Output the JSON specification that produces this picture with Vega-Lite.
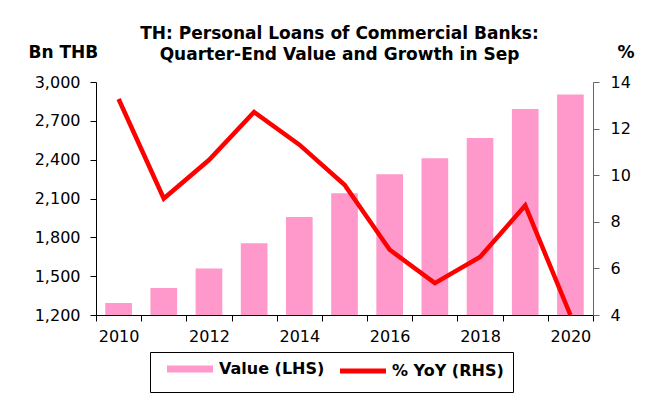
{
  "$schema": "https://vega.github.io/schema/vega-lite/v6.json",
  "width": 497,
  "height": 233,
  "autosize": "none",
  "padding": {"left": 96, "top": 82, "right": 53, "bottom": 89},
  "background": "white",
  "config": {
    "font": "DejaVu Sans",
    "view": {"stroke": null},
    "axis": {
      "grid": false,
      "labelFont": "DejaVu Sans",
      "labelFontSize": 16,
      "labelColor": "black",
      "titleFont": "DejaVu Sans",
      "titleFontWeight": "bold",
      "titleFontSize": 17,
      "titleColor": "black",
      "domainColor": "black",
      "tickColor": "black",
      "domainWidth": 1,
      "tickWidth": 1
    }
  },
  "title": {
    "text": ["TH: Personal Loans of Commercial Banks:", "Quarter-End Value and Growth in Sep"],
    "font": "DejaVu Sans",
    "fontSize": 17,
    "fontWeight": "bold",
    "color": "black",
    "anchor": "middle",
    "frame": "group",
    "dx": -5,
    "dy": 25,
    "lineHeight": 21.7,
    "offset": 4
  },
  "data": {
    "values": [
      {"year": "2010", "value": 1292, "yoy": 13.27},
      {"year": "2011", "value": 1408, "yoy": 9.0},
      {"year": "2012", "value": 1559, "yoy": 10.65},
      {"year": "2013", "value": 1755, "yoy": 12.71},
      {"year": "2014", "value": 1958, "yoy": 11.31},
      {"year": "2015", "value": 2141, "yoy": 9.59},
      {"year": "2016", "value": 2287, "yoy": 6.8},
      {"year": "2017", "value": 2411, "yoy": 5.37},
      {"year": "2018", "value": 2567, "yoy": 6.49},
      {"year": "2019", "value": 2791, "yoy": 8.7},
      {"year": "2020", "value": 2904, "yoy": 4.0}
    ]
  },
  "encoding": {
    "x": {
      "field": "year",
      "type": "ordinal",
      "scale": {"paddingInner": 0, "paddingOuter": 0},
      "axis": {
        "title": null,
        "labelAngle": 0,
        "tickBand": "extent",
        "tickSize": 6,
        "labelPadding": 7,
        "labelOverlap": false,
        "labelExpr": "parseInt(datum.value) % 2 == 0 ? datum.value : ''"
      }
    }
  },
  "layer": [
    {
      "mark": {"type": "bar", "width": {"band": 0.59}, "clip": true},
      "encoding": {
        "y": {
          "field": "value",
          "type": "quantitative",
          "scale": {"domain": [1200, 3000], "zero": false, "nice": false},
          "axis": {
            "orient": "left",
            "values": [1200, 1500, 1800, 2100, 2400, 2700, 3000],
            "format": ",.0f",
            "tickSize": 6,
            "labelPadding": 10,
            "title": "Bn THB",
            "titleAngle": 0,
            "titleAlign": "left",
            "titleBaseline": "middle",
            "titleX": -68,
            "titleY": -29.5
          }
        },
        "color": {
          "datum": "Value (LHS)",
          "scale": {"domain": ["Value (LHS)", "% YoY (RHS)"], "range": ["#FF99CC", "#FF0000"]},
          "legend": {
            "title": null,
            "orient": "none",
            "legendX": 54,
            "legendY": 270,
            "direction": "horizontal",
            "symbolType": "M0,0H9.2",
            "symbolSize": 100,
            "symbolStrokeWidth": 6,
            "labelFont": "DejaVu Sans",
            "labelFontSize": 16,
            "labelFontWeight": "bold",
            "labelColor": "black",
            "labelOffset": 44,
            "columnPadding": 5,
            "padding": 9,
            "strokeColor": "black",
            "fillColor": "white",
            "encode": {
              "symbols": {
                "update": {
                  "strokeWidth": {"signal": "datum.value == 'Value (LHS)' ? 7 : 5"}
                }
              }
            }
          }
        }
      }
    },
    {
      "mark": {"type": "line", "strokeWidth": 4.5},
      "encoding": {
        "y": {
          "field": "yoy",
          "type": "quantitative",
          "scale": {"domain": [4, 14], "zero": false, "nice": false},
          "axis": {
            "orient": "right",
            "values": [4, 6, 8, 10, 12, 14],
            "tickSize": 6,
            "labelPadding": 11,
            "domainColor": "#666666",
            "tickColor": "#666666",
            "title": "%",
            "titleAngle": 0,
            "titleAlign": "left",
            "titleBaseline": "middle",
            "titleX": 24,
            "titleY": -29.5
          }
        },
        "color": {"datum": "% YoY (RHS)"}
      }
    }
  ],
  "resolve": {"scale": {"y": "independent"}}
}
